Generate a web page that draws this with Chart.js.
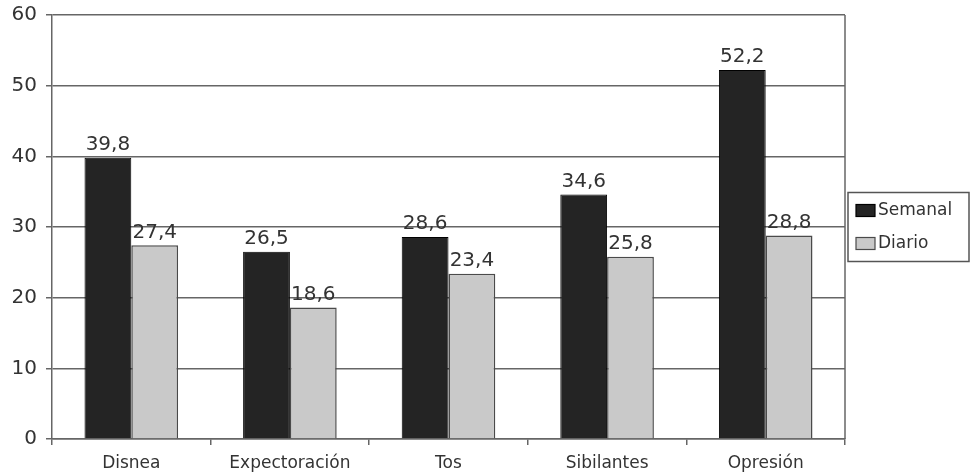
<!DOCTYPE html>
<html>
<head>
<meta charset="utf-8">
<script src="https://cdn.jsdelivr.net/npm/chart.js@4.4.0/dist/chart.umd.min.js"></script>
<style>
    html, body { margin: 0; padding: 0; background: #fff; }
    #wrap { width: 971px; height: 475px; }
</style>
</head>
<body>
<div id="wrap"><canvas id="barChart"></canvas></div>
<script>
// datos
const categories = ['Disnea', 'Expectoración', 'Tos', 'Sibilantes', 'Opresión'];
const semanal = [39.8, 26.5, 28.6, 34.6, 52.2];
const diario = [27.4, 18.6, 23.4, 25.8, 28.8];
const seriesNames = ['Semanal', 'Diario'];
const yTicks = [0, 10, 20, 30, 40, 50, 60];

const gridColor = '#666';
const textColor = '#333';

// etiquetas encima de cada barra, con coma decimal
const valueLabels = {
    id: 'valueLabels',
    afterDatasetsDraw(chart) {
        const ctx = chart.ctx;
        ctx.save();
        ctx.font = '20px "DejaVu Sans"';
        ctx.fillStyle = textColor;
        ctx.textAlign = 'center';
        ctx.textBaseline = 'bottom';
        chart.data.datasets.forEach((ds, i) => {
            chart.getDatasetMeta(i).data.forEach((bar, j) => {
                const txt = ds.data[j].toFixed(1).replace('.', ',');
                ctx.fillText(txt, bar.x, bar.y - 3);
            });
        });
        ctx.restore();
    }
};

// borde derecho del área y leyenda con marco
const frameAndLegend = {
    id: 'frameAndLegend',
    afterDraw(chart) {
        const ctx = chart.ctx;
        const area = chart.chartArea;
        ctx.save();
        ctx.strokeStyle = gridColor;
        ctx.lineWidth = 1.5;
        ctx.beginPath();
        ctx.moveTo(area.right, area.top);
        ctx.lineTo(area.right, area.bottom);
        ctx.stroke();

        const boxW = 121, boxH = 69;
        const x0 = area.right + 3;
        const y0 = (area.top + area.bottom) / 2 - boxH / 2;
        ctx.strokeStyle = '#555';
        ctx.lineWidth = 1.5;
        ctx.strokeRect(x0, y0, boxW, boxH);

        ctx.font = '17px "DejaVu Sans"';
        ctx.textBaseline = 'middle';
        ctx.textAlign = 'left';
        chart.data.datasets.forEach((ds, i) => {
            const cy = y0 + 18 + i * 33;
            ctx.fillStyle = ds.backgroundColor;
            ctx.fillRect(x0 + 8, cy - 6, 19, 12);
            ctx.strokeStyle = ds.borderColor;
            ctx.lineWidth = 1.2;
            ctx.strokeRect(x0 + 8, cy - 6, 19, 12);
            ctx.fillStyle = textColor;
            ctx.fillText(ds.label, x0 + 30, cy);
        });
        ctx.restore();
    }
};

const ctx = document.getElementById('barChart').getContext('2d');
const barChart = new Chart(ctx, {
    type: 'bar',
    data: {
        labels: categories,
        datasets: [{
            label: seriesNames[0],
            data: semanal,
            backgroundColor: '#242424',
            borderColor: '#000',
            borderWidth: 1,
            categoryPercentage: 0.59,
            barPercentage: 1
        }, {
            label: seriesNames[1],
            data: diario,
            backgroundColor: '#c9c9c9',
            borderColor: '#4a4a4a',
            borderWidth: 1.5,
            categoryPercentage: 0.59,
            barPercentage: 1
        }]
    },
    options: {
        responsive: true,
        maintainAspectRatio: false,
        animation: false,
        layout: {
            padding: { top: 14, right: 126, bottom: 0, left: 0 }
        },
        plugins: {
            legend: { display: false },
            tooltip: { enabled: false }
        },
        scales: {
            y: {
                min: 0,
                max: 60,
                afterBuildTicks: scale => {
                    scale.ticks = yTicks.map(v => ({ value: v }));
                },
                afterFit: scale => { scale.width = 52; },
                ticks: {
                    color: textColor,
                    padding: 9,
                    font: { family: 'DejaVu Sans', size: 20, lineHeight: 0.6 }
                },
                grid: {
                    color: gridColor,
                    lineWidth: 1.5,
                    tickLength: 6
                },
                border: { color: gridColor, width: 1.5 }
            },
            x: {
                afterFit: scale => { scale.height = 36; },
                ticks: {
                    color: textColor,
                    padding: 8,
                    font: { family: 'DejaVu Sans', size: 17 }
                },
                grid: {
                    drawOnChartArea: false,
                    offset: true,
                    color: gridColor,
                    lineWidth: 1.5,
                    tickLength: 6
                },
                border: { color: gridColor, width: 1.5 }
            }
        }
    },
    plugins: [valueLabels, frameAndLegend]
});
</script>
</body>
</html>
